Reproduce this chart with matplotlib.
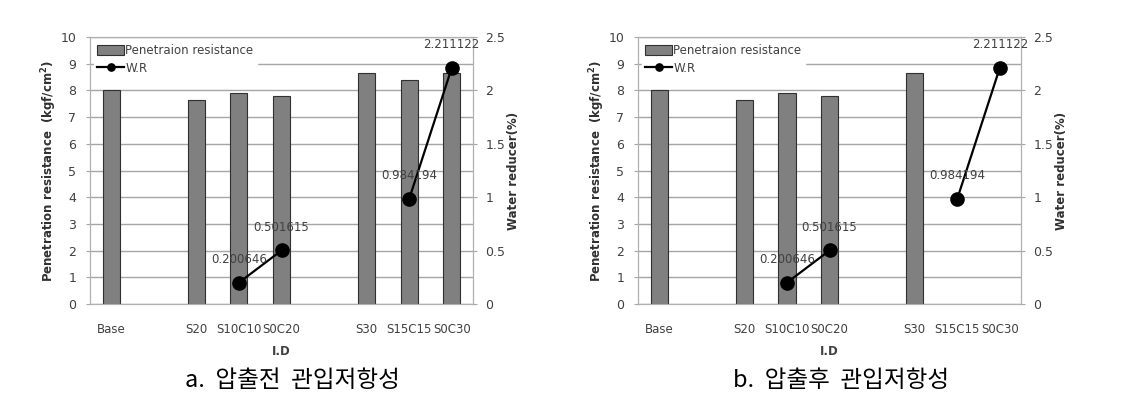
import numpy as np
import matplotlib.pyplot as plt

plt.rcParams['font.family'] = ['DejaVu Sans', 'Noto Sans CJK KR']

# categories (empty slots are gaps between groups)
ids = ['Base', '', 'S20', 'S10C10', 'S0C20', '', 'S30', 'S15C15', 'S0C30']

# penetration resistance (kgf/cm2)
pr_before = [8.0, np.nan, 7.65, 7.9, 7.8, np.nan, 8.65, 8.4, 8.65]
pr_after = [8.0, np.nan, 7.65, 7.9, 7.8, np.nan, 8.65, np.nan, np.nan]

# water reducer (%)
wr = [np.nan, np.nan, np.nan, 0.200646, 0.501615, np.nan, np.nan, 0.984194, 2.211122]

captions = ['a.  압출전  관입저항성', 'b.  압출후  관입저항성']

fig = plt.figure(figsize=(11.42, 4.07), dpi=100)
x = np.arange(len(ids))
grey = '#404040'


def draw_panel(left, pr, caption):
    ax = fig.add_axes([left, 0.253, 0.3354, 0.656])
    ax.set_axisbelow(True)
    ax.yaxis.grid(True, color='#a6a6a6', linewidth=1)
    ax.bar(x, pr, width=0.4, color='#808080', edgecolor='#303030',
           linewidth=0.8, label='Penetraion resistance')
    ax.set_xlim(-0.5, len(ids) - 0.5)
    ax.set_ylim(0, 10)
    ax.set_yticks(range(0, 11))
    ax.set_xticks(x)
    ax.set_xticklabels(ids)
    ax.tick_params(axis='x', length=0, pad=14, labelsize=8.5, labelcolor=grey)
    ax.tick_params(axis='y', length=3, color='#a6a6a6', labelsize=9, labelcolor=grey, pad=7)
    for s in ax.spines.values():
        s.set_color('#b0b0b0')
    ax.set_xlabel('I.D', fontsize=8.5, fontweight='bold', color=grey, labelpad=6)
    ax.set_ylabel('Penetration resistance  (kgf/cm$^\\mathbf{2}$)', fontsize=8.5,
                  fontweight='bold', color='#303030', labelpad=1)

    ax2 = ax.twinx()
    ax2.plot(x, wr, color='black', linewidth=1.6, marker='o', markersize=9.5,
             label='W.R')
    for xi, v in zip(x, wr):
        if not np.isnan(v):
            ax2.annotate(f'{v:.6f}', (xi, v), xytext=(0, 14), textcoords='offset points',
                         ha='center', fontsize=8.5, color=grey)
    ax2.set_ylim(0, 2.5)
    ax2.set_yticks([0, 0.5, 1, 1.5, 2, 2.5])
    ax2.set_yticklabels(['0', '0.5', '1', '1.5', '2', '2.5'])
    ax2.tick_params(axis='y', length=3, color='#a6a6a6', labelsize=9, labelcolor=grey, pad=6)
    for s in ax2.spines.values():
        s.set_color('#b0b0b0')
    ax2.set_ylabel('Water reducer(%)', fontsize=8.5, fontweight='bold', color='#303030',
                   labelpad=1)

    h1, l1 = ax.get_legend_handles_labels()
    h2, l2 = ax2.get_legend_handles_labels()
    leg = ax2.legend(h1 + h2, l1 + l2, loc='upper left', fontsize=8.5, frameon=True,
                     framealpha=1, edgecolor='white', borderaxespad=0.3,
                     handlelength=2.3, handleheight=0.9, handletextpad=0.1,
                     labelspacing=0.4, borderpad=0.3, markerscale=0.55)
    for t in leg.get_texts():
        t.set_color(grey)

    cx = left + 0.3354 / 2 + 0.01
    fig.text(cx, 0.065, caption, ha='center', va='center', fontsize=17,
             family=['Noto Sans CJK KR'], color='black')


draw_panel(0.0788, pr_before, captions[0])
draw_panel(0.5587, pr_after, captions[1])

fig.savefig('out.png', dpi=100)
